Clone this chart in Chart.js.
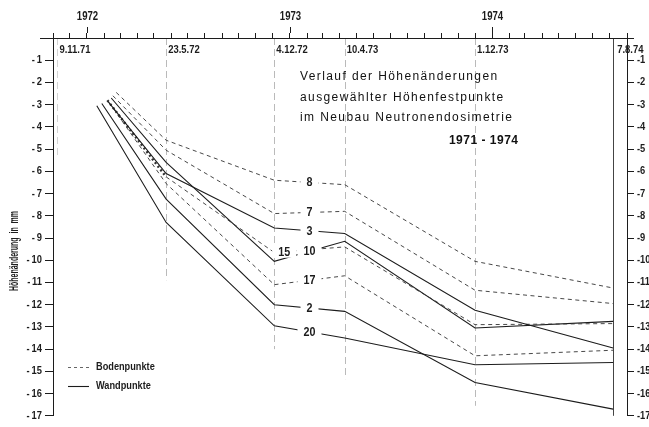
<!DOCTYPE html>
<html><head><meta charset="utf-8">
<script src="https://cdn.jsdelivr.net/npm/chart.js@4.4.1/dist/chart.umd.min.js"></script>
<style>html,body{margin:0;padding:0;background:#fff;}canvas{display:block;}</style>
</head><body>
<canvas id="c" width="649" height="427"></canvas>
<script>
// ---------- DATA ----------
const markerDates  = ['1971-11-09','1972-05-23','1972-12-04','1973-04-10','1973-12-01','1974-08-07'];
const markerLabels = ['9.11.71','23.5.72','4.12.72','10.4.73','1.12.73','7.8.74'];
const measureDates = ['1972-05-23','1972-12-04','1973-04-10','1973-12-01','1974-08-07'];
const yearLabels   = ['1972','1973','1974'];
const axisStart = '1971-11-01';
const axisEnd   = '1974-09-01';
const yTicks = [-1,-2,-3,-4,-5,-6,-7,-8,-9,-10,-11,-12,-13,-14,-15,-16,-17];

const seriesNames = ['8','7','3','15','10','17','2','20'];
const seriesKinds = ['Boden','Boden','Wand','Boden','Wand','Boden','Wand','Wand'];
const startDates  = ['1972-02-23','1972-02-17','1972-02-08','1972-02-07','1972-02-14','1972-02-10','1972-01-28','1972-01-19'];
const startValues = [-2.45, -2.6, -2.85, -2.8, -2.7, -2.9, -2.95, -3.05];
const p8  = [-4.6,  -6.4,  -6.6,  -10.05, -11.25];
const p7  = [-5.05, -7.9,  -7.8,  -11.35, -11.95];
const p3  = [-6.1,  -8.55, -8.8,  -12.25, -13.95];
const p15 = [-6.25, -9.65, -9.4,  -12.9,  -12.85];
const p10 = [-5.6,  -10.05,-9.15, -13.05, -12.75];
const p17 = [-6.55, -11.1, -10.7, -14.3,  -14.05];
const p2  = [-7.25, -12.0, -12.3, -15.5,  -16.7];
const p20 = [-8.3,  -12.95,-13.5, -14.7,  -14.6];
const seriesValues = [p8, p7, p3, p15, p10, p17, p2, p20];

const legendLabels = ['Bodenpunkte','Wandpunkte'];
const titleLines = ['Verlauf der Höhenänderungen','ausgewählter Höhenfestpunkte','im Neubau Neutronendosimetrie'];
const titleYears = '1971 - 1974';
const yAxisTitle = 'Höhenänderung  in  mm';

// ---------- helpers ----------
const day = s => { const [y,m,d] = s.split('-').map(Number); return Date.UTC(y, m-1, d) / 86400000; };
const monthTicks = [];
(function(){ let y=1971, m=10; while (true) { const v = Date.UTC(y,m,1)/86400000; if (v > day(axisEnd)) break; monthTicks.push({v, jan: m===0, year: y}); m++; if (m===12){m=0;y++;} } })();

const SANS = "'Liberation Sans', Arial, sans-serif";
const INK = '#1c1c1c';

function textN(ctx, s, x, y, align, sx, font) {
  ctx.save();
  ctx.font = font;
  ctx.translate(x, y); ctx.scale(sx, 1);
  ctx.textAlign = align; ctx.textBaseline = 'middle';
  ctx.fillText(s, 0, 0);
  ctx.restore();
}

const datasets = seriesNames.map((name, i) => {
  const dashed = seriesKinds[i] === 'Boden';
  const pts = [{x: day(startDates[i]), y: startValues[i]}].concat(measureDates.map((d,k)=>({x: day(d), y: seriesValues[i][k]})));
  const ds = {
    label: name, data: pts, borderColor: dashed ? '#333' : INK, borderWidth: dashed ? 0.9 : 1.1,
    borderDash: dashed ? [4,3.5] : [], pointRadius: 0, fill: false, tension: 0, xAxisID: 'x', yAxisID: 'y'
  };
  if (name === '15') {
    ds.segment = {
      borderWidth: c => c.p0DataIndex === 0 ? 2.4 : 0.9,
      borderDash: c => c.p0DataIndex === 0 ? [2,2.6] : [4,3.5]
    };
  }
  return ds;
});

const labelFrac = {'15': 0.14};
const guideBottoms = [-5.3, -10.9, -14.0, -15.35, -16.55, -17];

const deco = {
  id: 'deco',
  beforeDatasetsDraw(chart) {
    const {ctx, scales:{x, y}} = chart;
    ctx.save();
    markerDates.forEach((d, i) => {
      const px = Math.round(x.getPixelForValue(day(d))) + 0.5;
      const last = i === markerDates.length - 1;
      ctx.strokeStyle = last ? '#444' : (i === 0 ? '#c8c8c8' : '#a8a8a8');
      ctx.lineWidth = last ? 1 : 0.8;
      ctx.setLineDash(last ? [] : [7,4]);
      ctx.beginPath(); ctx.moveTo(px, y.getPixelForValue(0)); ctx.lineTo(px, y.getPixelForValue(guideBottoms[i])); ctx.stroke();
    });
    ctx.setLineDash([]);
    // title block
    ctx.fillStyle = '#111';
    ctx.font = "12px " + SANS;
    try { ctx.letterSpacing = '1.4px'; } catch(e) {}
    ctx.textBaseline = 'middle'; ctx.textAlign = 'left';
    const ty = [77, 97.5, 118];
    titleLines.forEach((t, i) => ctx.fillText(t, 300, ty[i]));
    ctx.textAlign = 'right';
    ctx.font = "bold 12px " + SANS;
    try { ctx.letterSpacing = '0.5px'; } catch(e) {}
    ctx.fillText(titleYears, 518.5, 140.5);
    try { ctx.letterSpacing = '0px'; } catch(e) {}
    ctx.restore();
  },
  afterDatasetsDraw(chart) {
    const {ctx, scales:{x, y}} = chart;
    ctx.save();
    // series labels between 4.12.72 and 10.4.73
    const lblFont = 'bold 12.5px ' + SANS;
    ctx.font = lblFont;
    const pos = chart.data.datasets.map(ds => {
      const f = labelFrac[ds.label] !== undefined ? labelFrac[ds.label] : 0.5;
      const a = ds.data[2], b = ds.data[3];
      return {px: x.getPixelForValue(a.x + (b.x - a.x) * f), py: y.getPixelForValue(a.y + (b.y - a.y) * f), t: ds.label};
    });
    pos.forEach(p => {
      const w = ctx.measureText(p.t).width * 0.86 + 12;
      ctx.fillStyle = '#fff';
      ctx.fillRect(p.px - w/2, p.py - 6, w, 12);
    });
    ctx.fillStyle = INK;
    pos.forEach(p => textN(ctx, p.t, p.px, p.py + 0.5, 'center', 0.86, lblFont));
    // date labels
    const smallB = 'bold 11px ' + SANS;
    markerDates.forEach((d, i) => {
      const px = x.getPixelForValue(day(d));
      textN(ctx, markerLabels[i], px + (i === markerDates.length-1 ? 4 : 2), 50, 'left', 0.86, smallB);
    });
    // year labels + longer year ticks
    ctx.strokeStyle = INK; ctx.lineWidth = 1;
    monthTicks.filter(t => t.jan).forEach(t => {
      const px = Math.round(x.getPixelForValue(t.v)) + 0.5;
      ctx.beginPath(); ctx.moveTo(px, 33); ctx.lineTo(px, 27); ctx.stroke();
      const lbl = yearLabels[yearLabels.indexOf(String(t.year))];
      if (lbl) textN(ctx, lbl, px, 17, 'center', 0.8, 'bold 12px ' + SANS);
    });
    // y tick labels (left & right)
    yTicks.forEach(v => {
      const py = y.getPixelForValue(v);
      textN(ctx, '-\u2009' + Math.abs(v), 42, py, 'right', 0.85, smallB);
      textN(ctx, '-' + Math.abs(v), 637, py, 'left', 0.85, smallB);
    });
    // axis line extension
    ctx.beginPath(); ctx.moveTo(40, 38.5); ctx.lineTo(634, 38.5); ctx.stroke();
    ctx.beginPath(); ctx.moveTo(53.5, 33); ctx.lineTo(53.5, 38.5); ctx.stroke();
    ctx.beginPath(); ctx.moveTo(627.5, 33); ctx.lineTo(627.5, 38.5); ctx.stroke();
    // y title
    ctx.save();
    ctx.translate(15, 251); ctx.rotate(-Math.PI/2);
    textN(ctx, yAxisTitle, 0, 0, 'center', 0.56, 'bold 12.5px ' + SANS);
    ctx.restore();
    // legend
    ctx.strokeStyle = '#555'; ctx.lineWidth = 0.9; ctx.setLineDash([3,3]);
    ctx.beginPath(); ctx.moveTo(68, 367.5); ctx.lineTo(89, 367.5); ctx.stroke();
    ctx.setLineDash([]); ctx.strokeStyle = INK; ctx.lineWidth = 1.1;
    ctx.beginPath(); ctx.moveTo(68, 386.5); ctx.lineTo(89, 386.5); ctx.stroke();
    ctx.fillStyle = INK;
    textN(ctx, legendLabels[0], 96, 367, 'left', 0.8, 'bold 11.5px ' + SANS);
    textN(ctx, legendLabels[1], 96, 386, 'left', 0.8, 'bold 11.5px ' + SANS);
    ctx.restore();
  }
};

new Chart(document.getElementById('c'), {
  type: 'line',
  data: {datasets},
  plugins: [deco],
  options: {
    responsive: false, animation: false,
    layout: {padding: {top: 0, bottom: 7, left: 0, right: 0}},
    plugins: {legend: {display: false}, tooltip: {enabled: false}},
    scales: {
      x: {
        type: 'linear', position: 'top', min: day(axisStart), max: day(axisEnd),
        afterBuildTicks: s => { s.ticks = monthTicks.map(t => ({value: t.v})); },
        afterFit: s => { s.height = 38; },
        grid: {drawOnChartArea: false, drawTicks: true, tickLength: 5, tickColor: INK, color: INK},
        border: {display: true, color: INK, width: 1},
        ticks: {autoSkip: false, maxRotation: 0, minRotation: 0, padding: 10, color: INK, callback: () => ''}
      },
      y: {
        type: 'linear', position: 'left', min: -17, max: 0,
        afterFit: s => { s.width = 53; },
        grid: {drawOnChartArea: false, tickLength: 8, tickColor: c => c.tick && c.tick.value === 0 ? 'rgba(0,0,0,0)' : INK},
        border: {display: true, color: INK, width: 1},
        ticks: {stepSize: 1, autoSkip: false, padding: 4, color: INK, callback: () => ''}
      },
      y2: {
        type: 'linear', position: 'right', min: -17, max: 0,
        afterFit: s => { s.width = 22; },
        grid: {drawOnChartArea: false, tickLength: 7, tickColor: c => c.tick && c.tick.value === 0 ? 'rgba(0,0,0,0)' : INK},
        border: {display: true, color: INK, width: 1},
        ticks: {stepSize: 1, autoSkip: false, padding: 2, color: INK, callback: () => ''}
      }
    }
  }
});
</script>
</body></html>
